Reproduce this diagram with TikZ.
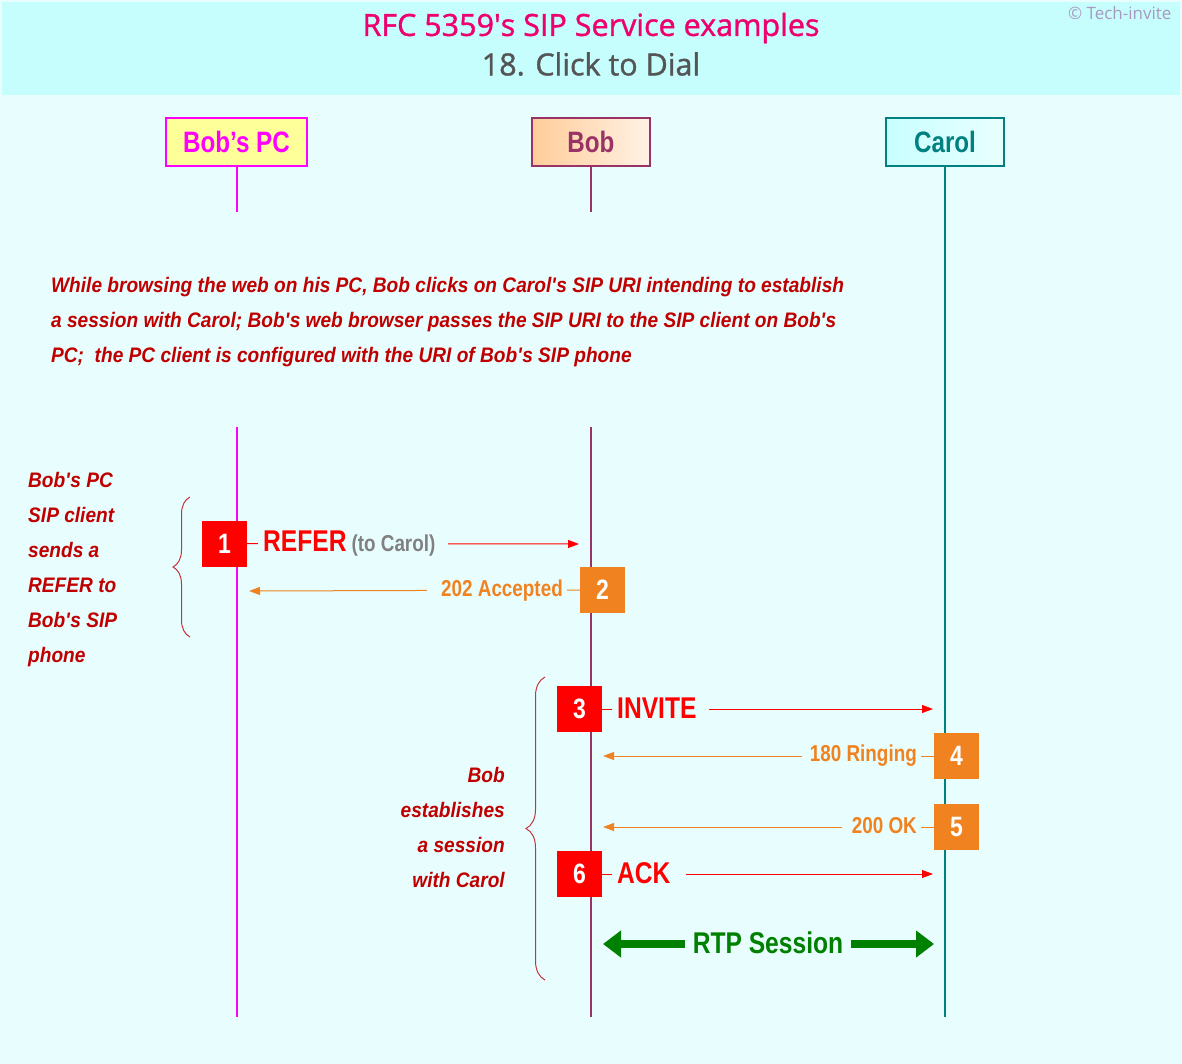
\documentclass[tikz,border=0pt]{standalone}
\usepackage{fontspec}
\setmainfont{Liberation Sans}[FakeStretch=0.82]
\newfontfamily\notefont{Liberation Sans}[FakeStretch=0.91]
\newfontfamily\titlefont{Open Sans}[FakeBold=1.2]
\newfontfamily\copyfont{Open Sans}
\usetikzlibrary{arrows.meta,decorations.pathreplacing}
\definecolor{bg}{RGB}{232,254,254}
\definecolor{hdr}{RGB}{198,254,254}
\definecolor{titlepink}{RGB}{238,0,110}
\definecolor{titlegray}{RGB}{85,85,85}
\definecolor{copyc}{RGB}{168,152,192}
\definecolor{mag}{RGB}{255,0,255}
\definecolor{pcyellow}{RGB}{255,255,153}
\definecolor{bobc}{RGB}{153,51,102}
\definecolor{peach}{RGB}{255,204,153}
\definecolor{tealc}{RGB}{0,128,128}
\definecolor{cyanbox}{RGB}{200,255,255}
\definecolor{drk}{RGB}{192,0,0}
\definecolor{brc}{RGB}{200,50,60}
\definecolor{org}{RGB}{240,130,32}
\definecolor{grn}{RGB}{0,128,0}
\definecolor{grayc}{RGB}{128,128,128}
\newcommand{\ap}{\textquotesingle}
\tikzset{
  actorbox/.style={draw, line width=1.5pt, minimum width=#1, minimum height=48pt, inner sep=0pt,
    font=\fontsize{29.5}{32}\selectfont\bfseries},
  lifeline/.style={line width=2pt},
  numbox/.style={minimum width=45pt, minimum height=46pt, inner sep=0pt, text=white,
    font=\fontsize{28}{30}\selectfont\bfseries},
  msgred/.style={draw=red, line width=1pt, -{Triangle[length=11pt,width=8pt]}},
  msgorg/.style={draw=org, line width=1pt, -{Triangle[length=11pt,width=8pt]}},
  biglabel/.style={fill=bg, inner xsep=5pt, inner ysep=2pt, font=\fontsize{30}{32}\selectfont\bfseries},
  smalllabel/.style={fill=bg, inner xsep=4pt, inner ysep=2pt, font=\fontsize{23}{26}\selectfont\bfseries},
  note/.style={text=drk, inner sep=0pt, font=\notefont\fontsize{21}{35}\selectfont\bfseries\itshape},
  bracestyle/.style={draw=brc, line width=1pt, decorate, decoration={brace, amplitude=#1}},
}
\begin{document}
\begin{tikzpicture}[x=1pt,y=-1pt]
\useasboundingbox (0,0) rectangle (1182,1064);
\fill[bg] (0,0) rectangle (1182,1064);
\fill[hdr] (2,2) rectangle (1180,95);
% title
\node[text=titlepink, font=\titlefont\fontsize{30.5}{32}\selectfont] (t1) at (591,28) {RFC 5359\ap s SIP Service examples};
\node[text=titlegray, font=\titlefont\fontsize{30.5}{32}\selectfont] (t2) at (591,64) {18. Click to Dial};
\node[text=copyc, anchor=east, font=\copyfont\fontsize{17}{18}\selectfont] (cp) at (1175,13) {\textcopyright\ Tech-invite};
% actors
\node[actorbox=141pt, draw=mag, fill=pcyellow, text=mag] (pc) at (236.5,142) {Bob’s PC};
\node[actorbox=118pt, draw=bobc, left color=peach, right color=peach!25!white, text=bobc] (bob) at (591,142) {Bob};
\node[actorbox=118pt, draw=tealc, left color=cyanbox, right color=cyanbox!40!white, text=tealc] (carol) at (945,142) {Carol};
% lifelines
\coordinate (pcA) at (236.5,212); \coordinate (pcB) at (236.5,427); \coordinate (pcC) at (236.5,1017);
\coordinate (bobA) at (591,212); \coordinate (bobB) at (591,427); \coordinate (bobC) at (591,1017);
\coordinate (carC) at (945,1017);
\draw[lifeline, mag] (pc.south) -- (pcA);
\draw[lifeline, mag] (pcB) -- (pcC);
\draw[lifeline, bobc] (bob.south) -- (bobA);
\draw[lifeline, bobc] (bobB) -- (bobC);
\draw[lifeline, tealc] (carol.south) -- (carC);
% description
\node[note, anchor=north west, align=left] (desc) at (51,277) {While browsing the web on his PC, Bob clicks on Carol\ap s SIP URI intending to establish\\a session with Carol; Bob\ap s web browser passes the SIP URI to the SIP client on Bob\ap s\\PC;\ \ the PC client is configured with the URI of Bob\ap s SIP phone};
% left note + brace
\node[note, anchor=north west, align=left] (lnote) at (28,472) {Bob\ap s PC\\SIP client\\sends a\\REFER to\\Bob\ap s SIP\\phone};
\coordinate (br1a) at (190,637); \coordinate (br1b) at (190,497);
\draw[bracestyle=17pt] (br1a) -- (br1b);
% message 1
\node[numbox, fill=red] (n1) at (224.5,543.5) {1};
\coordinate (e1) at (579,544);
\draw[msgred] (n1.east) -- (e1);
\node[biglabel, anchor=west, text=red] (l1) at (258,544) {REFER\,{\fontsize{23}{26}\selectfont\color{grayc}(to Carol)}\kern8pt};
% message 2
\node[numbox, fill=org] (n2) at (602.5,590) {2};
\coordinate (e2) at (249,591);
\draw[msgorg] (n2.west) -- (e2);
\node[smalllabel, anchor=east, text=org] (l2) at (567,591) {\kern10pt 202 Accepted};
% right note + brace
\node[note, anchor=north east, align=right] (rnote) at (505,767) {Bob\\establishes\\a session\\with Carol};
\coordinate (br2a) at (545,980); \coordinate (br2b) at (545,677);
\draw[bracestyle=19pt] (br2a) -- (br2b);
% message 3
\node[numbox, fill=red] (n3) at (579.5,709) {3};
\coordinate (e3) at (933,709);
\draw[msgred] (n3.east) -- (e3);
\node[biglabel, anchor=west, text=red] (l3) at (612,708) {INVITE\kern8pt};
% message 4
\node[numbox, fill=org] (n4) at (956.5,756) {4};
\coordinate (e4) at (603,756);
\draw[msgorg] (n4.west) -- (e4);
\node[smalllabel, anchor=east, text=org] (l4) at (921,756) {\kern4pt 180 Ringing};
% message 5
\node[numbox, fill=org] (n5) at (956.5,827) {5};
\coordinate (e5) at (603,827);
\draw[msgorg] (n5.west) -- (e5);
\node[smalllabel, anchor=east, text=org] (l5) at (921,826) {\kern6pt 200 OK};
% message 6
\node[numbox, fill=red] (n6) at (579.5,874) {6};
\coordinate (e6) at (933,874);
\draw[msgred] (n6.east) -- (e6);
\node[biglabel, anchor=west, text=red] (l6) at (612,873) {ACK\kern10pt};
% RTP
\coordinate (r1) at (603,944); \coordinate (r2) at (934,944);
\draw[grn, line width=8pt, {Triangle[length=18pt,width=26pt]}-{Triangle[length=18pt,width=26pt]}] (r1) -- (r2);
\node[biglabel, text=grn, inner xsep=8pt] (rtp) at (768,943) {RTP Session};
\end{tikzpicture}
\end{document}
